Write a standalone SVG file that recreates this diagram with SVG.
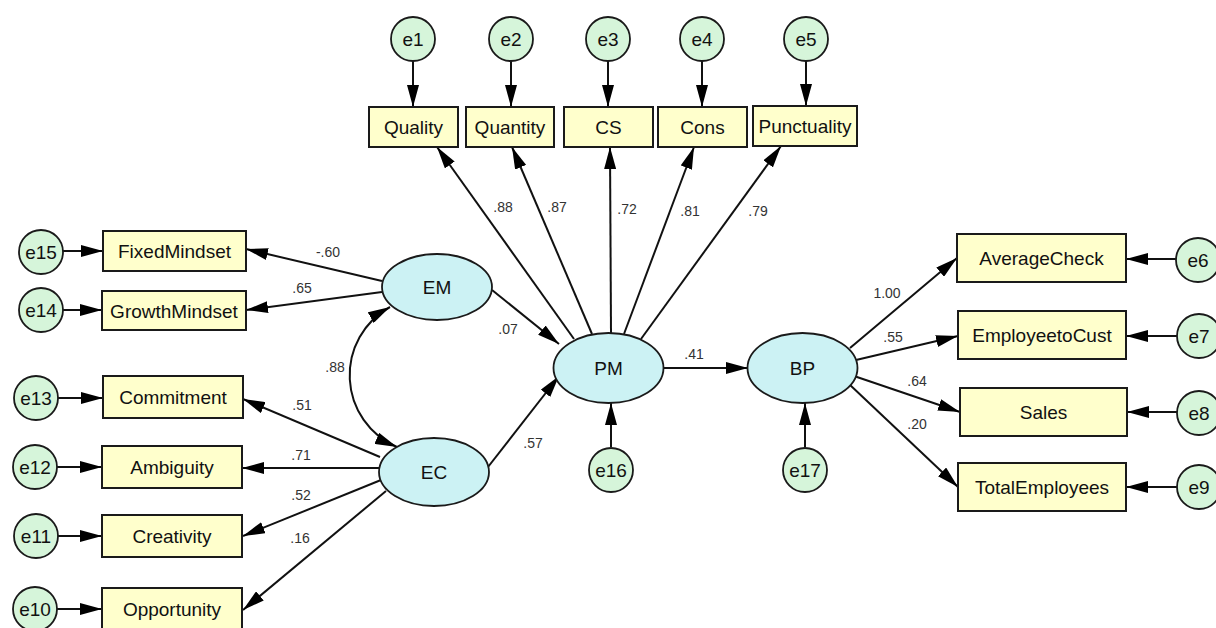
<svg xmlns="http://www.w3.org/2000/svg" width="1216" height="628" viewBox="0 0 1216 628">
<style>
.box{fill:#FFFFCC;stroke:#1a1a1a;stroke-width:2}
.err{fill:#D6F5DA;stroke:#1a1a1a;stroke-width:1.8}
.lat{fill:#CCF2F4;stroke:#1a1a1a;stroke-width:1.8}
.t{font-family:"Liberation Sans",Arial,sans-serif;font-size:19px;fill:#111;text-anchor:middle}
.lb{font-family:"Liberation Sans",Arial,sans-serif;font-size:14px;fill:#333;text-anchor:middle}
.c line,.c path{stroke:#111;stroke-width:2;fill:none;marker-end:url(#ah)}
</style>
<defs>
<marker id="ah" markerUnits="userSpaceOnUse" markerWidth="22" markerHeight="12" refX="22" refY="6" orient="auto-start-reverse">
<path d="M0,0 L22,6 L0,12 z" fill="#000"/>
</marker>
</defs>
<rect width="1216" height="628" fill="#fff"/>
<g class="c" id="connectors">
<line x1="413" y1="61" x2="413" y2="107"/>
<line x1="511" y1="61" x2="511" y2="107"/>
<line x1="608" y1="61" x2="608" y2="107"/>
<line x1="702" y1="61" x2="702" y2="107"/>
<line x1="806" y1="61" x2="806" y2="106"/>
<line x1="574" y1="339" x2="437" y2="147"/>
<line x1="592" y1="334" x2="512" y2="147"/>
<line x1="611" y1="333" x2="610" y2="147"/>
<line x1="624" y1="334" x2="694" y2="147"/>
<line x1="641" y1="339" x2="781" y2="146"/>
<line x1="63" y1="251" x2="103" y2="251"/>
<line x1="63" y1="310" x2="102" y2="310"/>
<line x1="58" y1="398" x2="103" y2="398"/>
<line x1="57" y1="467" x2="102" y2="467"/>
<line x1="58" y1="536" x2="102" y2="536"/>
<line x1="57" y1="609" x2="102" y2="609"/>
<line x1="382" y1="281" x2="246" y2="249"/>
<line x1="382" y1="292" x2="246" y2="310"/>
<path d="M390,307 A78,78 0 0 0 397,447" style="marker-start:url(#ah)"/>
<line x1="380" y1="457" x2="243" y2="399"/>
<line x1="380" y1="468" x2="242" y2="468"/>
<line x1="381" y1="480" x2="243" y2="536"/>
<line x1="386" y1="491" x2="243" y2="610"/>
<line x1="492" y1="290" x2="559" y2="344"/>
<line x1="488" y1="467" x2="559" y2="376"/>
<line x1="664" y1="368" x2="748" y2="368"/>
<line x1="611" y1="447" x2="611" y2="403"/>
<line x1="805" y1="447" x2="805" y2="403"/>
<line x1="850" y1="348" x2="957" y2="258"/>
<line x1="856" y1="360" x2="958" y2="336"/>
<line x1="854" y1="376" x2="960" y2="412"/>
<line x1="849" y1="384" x2="958" y2="487"/>
<line x1="1176" y1="259" x2="1126" y2="259"/>
<line x1="1177" y1="336" x2="1126" y2="336"/>
<line x1="1177" y1="412" x2="1127" y2="412"/>
<line x1="1177" y1="487" x2="1126" y2="487"/>
</g>
<g id="labels">
<text class="lb" x="503" y="212">.88</text>
<text class="lb" x="557" y="212">.87</text>
<text class="lb" x="627" y="214">.72</text>
<text class="lb" x="690" y="216">.81</text>
<text class="lb" x="758" y="216">.79</text>
<text class="lb" x="328" y="257">-.60</text>
<text class="lb" x="302" y="293">.65</text>
<text class="lb" x="335" y="372">.88</text>
<text class="lb" x="302" y="410">.51</text>
<text class="lb" x="301" y="460">.71</text>
<text class="lb" x="301" y="500">.52</text>
<text class="lb" x="300" y="543">.16</text>
<text class="lb" x="508" y="334">.07</text>
<text class="lb" x="533" y="448">.57</text>
<text class="lb" x="694" y="359">.41</text>
<text class="lb" x="887" y="298">1.00</text>
<text class="lb" x="893" y="342">.55</text>
<text class="lb" x="917" y="386">.64</text>
<text class="lb" x="917" y="429">.20</text>
</g>
<g id="e1"><circle class="err" cx="413" cy="39" r="22"/><text class="t" x="413" y="46">e1</text></g>
<g id="e2"><circle class="err" cx="511" cy="39" r="22"/><text class="t" x="511" y="46">e2</text></g>
<g id="e3"><circle class="err" cx="608" cy="39" r="22"/><text class="t" x="608" y="46">e3</text></g>
<g id="e4"><circle class="err" cx="702" cy="39" r="22"/><text class="t" x="702" y="46">e4</text></g>
<g id="e5"><circle class="err" cx="806" cy="39" r="22"/><text class="t" x="806" y="46">e5</text></g>
<g id="Quality"><rect class="box" x="369" y="107" width="89" height="40"/><text class="t" x="413.5" y="134">Quality</text></g>
<g id="Quantity"><rect class="box" x="466" y="107" width="88" height="40"/><text class="t" x="510" y="134">Quantity</text></g>
<g id="CS"><rect class="box" x="564" y="107" width="89" height="40"/><text class="t" x="608.5" y="134">CS</text></g>
<g id="Cons"><rect class="box" x="658" y="107" width="89" height="40"/><text class="t" x="702.5" y="134">Cons</text></g>
<g id="Punctuality"><rect class="box" x="753" y="106" width="104" height="40"/><text class="t" x="805" y="133">Punctuality</text></g>
<g id="e15"><circle class="err" cx="41" cy="252" r="22"/><text class="t" x="41" y="259">e15</text></g>
<g id="e14"><circle class="err" cx="41" cy="310" r="22"/><text class="t" x="41" y="317">e14</text></g>
<g id="e13"><circle class="err" cx="36" cy="398" r="22"/><text class="t" x="36" y="405">e13</text></g>
<g id="e12"><circle class="err" cx="35" cy="467" r="22"/><text class="t" x="35" y="474">e12</text></g>
<g id="e11"><circle class="err" cx="36" cy="536" r="22"/><text class="t" x="36" y="543">e11</text></g>
<g id="e10"><circle class="err" cx="35" cy="609" r="22"/><text class="t" x="35" y="616">e10</text></g>
<g id="FixedMindset"><rect class="box" x="103" y="231" width="143" height="40"/><text class="t" x="174.5" y="258">FixedMindset</text></g>
<g id="GrowthMindset"><rect class="box" x="102" y="291" width="144" height="39"/><text class="t" x="174" y="317.5">GrowthMindset</text></g>
<g id="Commitment"><rect class="box" x="103" y="376" width="140" height="42"/><text class="t" x="173" y="404">Commitment</text></g>
<g id="Ambiguity"><rect class="box" x="102" y="446" width="140" height="42"/><text class="t" x="172" y="474">Ambiguity</text></g>
<g id="Creativity"><rect class="box" x="102" y="515" width="140" height="42"/><text class="t" x="172" y="543">Creativity</text></g>
<g id="Opportunity"><rect class="box" x="102" y="588" width="140" height="42"/><text class="t" x="172" y="616">Opportunity</text></g>
<g id="EM"><ellipse class="lat" cx="437" cy="287" rx="55" ry="33"/><text class="t" x="437" y="294">EM</text></g>
<g id="EC"><ellipse class="lat" cx="434" cy="472" rx="55" ry="34"/><text class="t" x="434" y="479">EC</text></g>
<g id="PM"><ellipse class="lat" cx="608.5" cy="368" rx="55" ry="35"/><text class="t" x="608.5" y="375">PM</text></g>
<g id="BP"><ellipse class="lat" cx="802.5" cy="368" rx="55" ry="35"/><text class="t" x="802.5" y="375">BP</text></g>
<g id="e16"><circle class="err" cx="611" cy="470" r="22"/><text class="t" x="611" y="477">e16</text></g>
<g id="e17"><circle class="err" cx="805" cy="470" r="22"/><text class="t" x="805" y="477">e17</text></g>
<g id="AverageCheck"><rect class="box" x="957" y="234" width="169" height="48"/><text class="t" x="1041.5" y="265">AverageCheck</text></g>
<g id="EmployeetoCust"><rect class="box" x="958" y="311" width="168" height="48"/><text class="t" x="1042" y="342">EmployeetoCust</text></g>
<g id="Sales"><rect class="box" x="960" y="388" width="167" height="48"/><text class="t" x="1043.5" y="419">Sales</text></g>
<g id="TotalEmployees"><rect class="box" x="958" y="463" width="168" height="48"/><text class="t" x="1042" y="494">TotalEmployees</text></g>
<g id="e6"><circle class="err" cx="1198" cy="260" r="22"/><text class="t" x="1198" y="267">e6</text></g>
<g id="e7"><circle class="err" cx="1199" cy="336" r="22"/><text class="t" x="1199" y="343">e7</text></g>
<g id="e8"><circle class="err" cx="1199" cy="413" r="22"/><text class="t" x="1199" y="420">e8</text></g>
<g id="e9"><circle class="err" cx="1199" cy="487" r="22"/><text class="t" x="1199" y="494">e9</text></g>
</svg>
